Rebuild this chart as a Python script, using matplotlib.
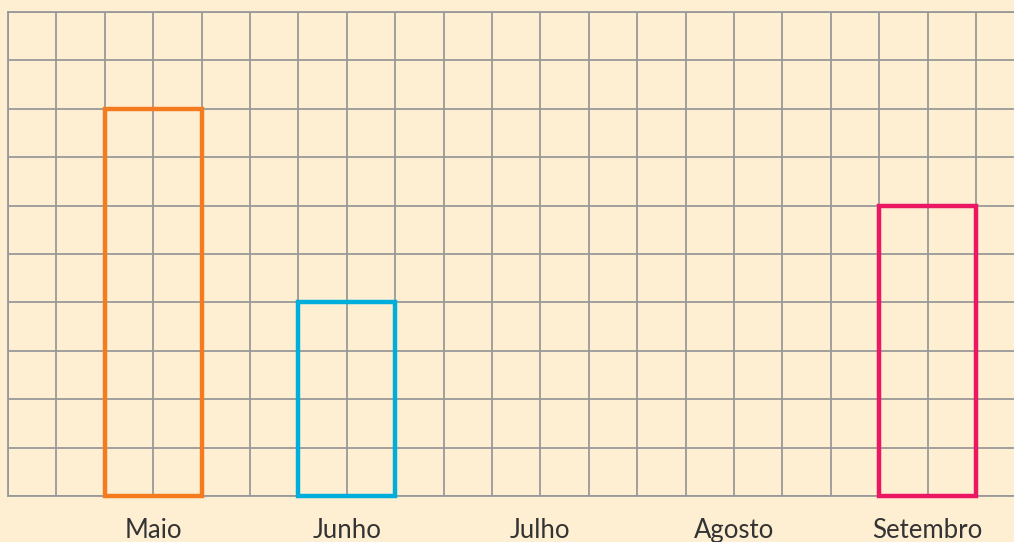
import numpy as np
import matplotlib
matplotlib.use("Agg")
import matplotlib.pyplot as plt

# Months and recorded values (Julho and Agosto left blank)
months = ["Maio", "Junho", "Julho", "Agosto", "Setembro"]
values = [8, 4, None, None, 6]
colors = ["#F47B20", "#00AEDB", "#999999", "#999999", "#EC1763"]

W, H, DPI = 1014, 542, 100
bg = "#FEEFD3"
grid_c = "#999999"

fig = plt.figure(figsize=(W / DPI, H / DPI), dpi=DPI, facecolor=bg)
left, top, bottom = 8, 12, 496
cell = (bottom - top) / 10
ax = fig.add_axes([left / W, (H - bottom) / H, (W - left) / W, (bottom - top) / H])
ax.set_facecolor(bg)

xmax = (W - left) / cell

# Square grid, one unit per cell
for gx in range(0, int(np.ceil(xmax)) + 1):
    ax.axvline(gx, color=grid_c, linewidth=1.3, zorder=1)
for gy in range(0, 11):
    ax.axhline(gy, color=grid_c, linewidth=1.3, zorder=1)

centers = [3 + 4 * i for i in range(len(months))]
ax.set_xticks(centers)
ax.set_xticklabels(months, fontsize=18.5, color="#333333", family=["Lato", "DejaVu Sans"])
ax.set_yticks([])
ax.tick_params(axis="x", which="both", length=0, pad=16)
ax.tick_params(axis="y", which="both", length=0)

for s in ["left", "bottom", "top"]:
    ax.spines[s].set_color(grid_c)
    ax.spines[s].set_linewidth(1.3)
ax.spines["right"].set_visible(False)

for c, v, col in zip(centers, values, colors):
    if v is None:
        continue
    ax.bar(c, v, width=2, fill=False, edgecolor=col, linewidth=3.2, zorder=3,
           clip_on=False)

ax.set_xlim(0, xmax)
ax.set_ylim(0, 10)

fig.savefig("out.png", dpi=DPI, facecolor=bg)
